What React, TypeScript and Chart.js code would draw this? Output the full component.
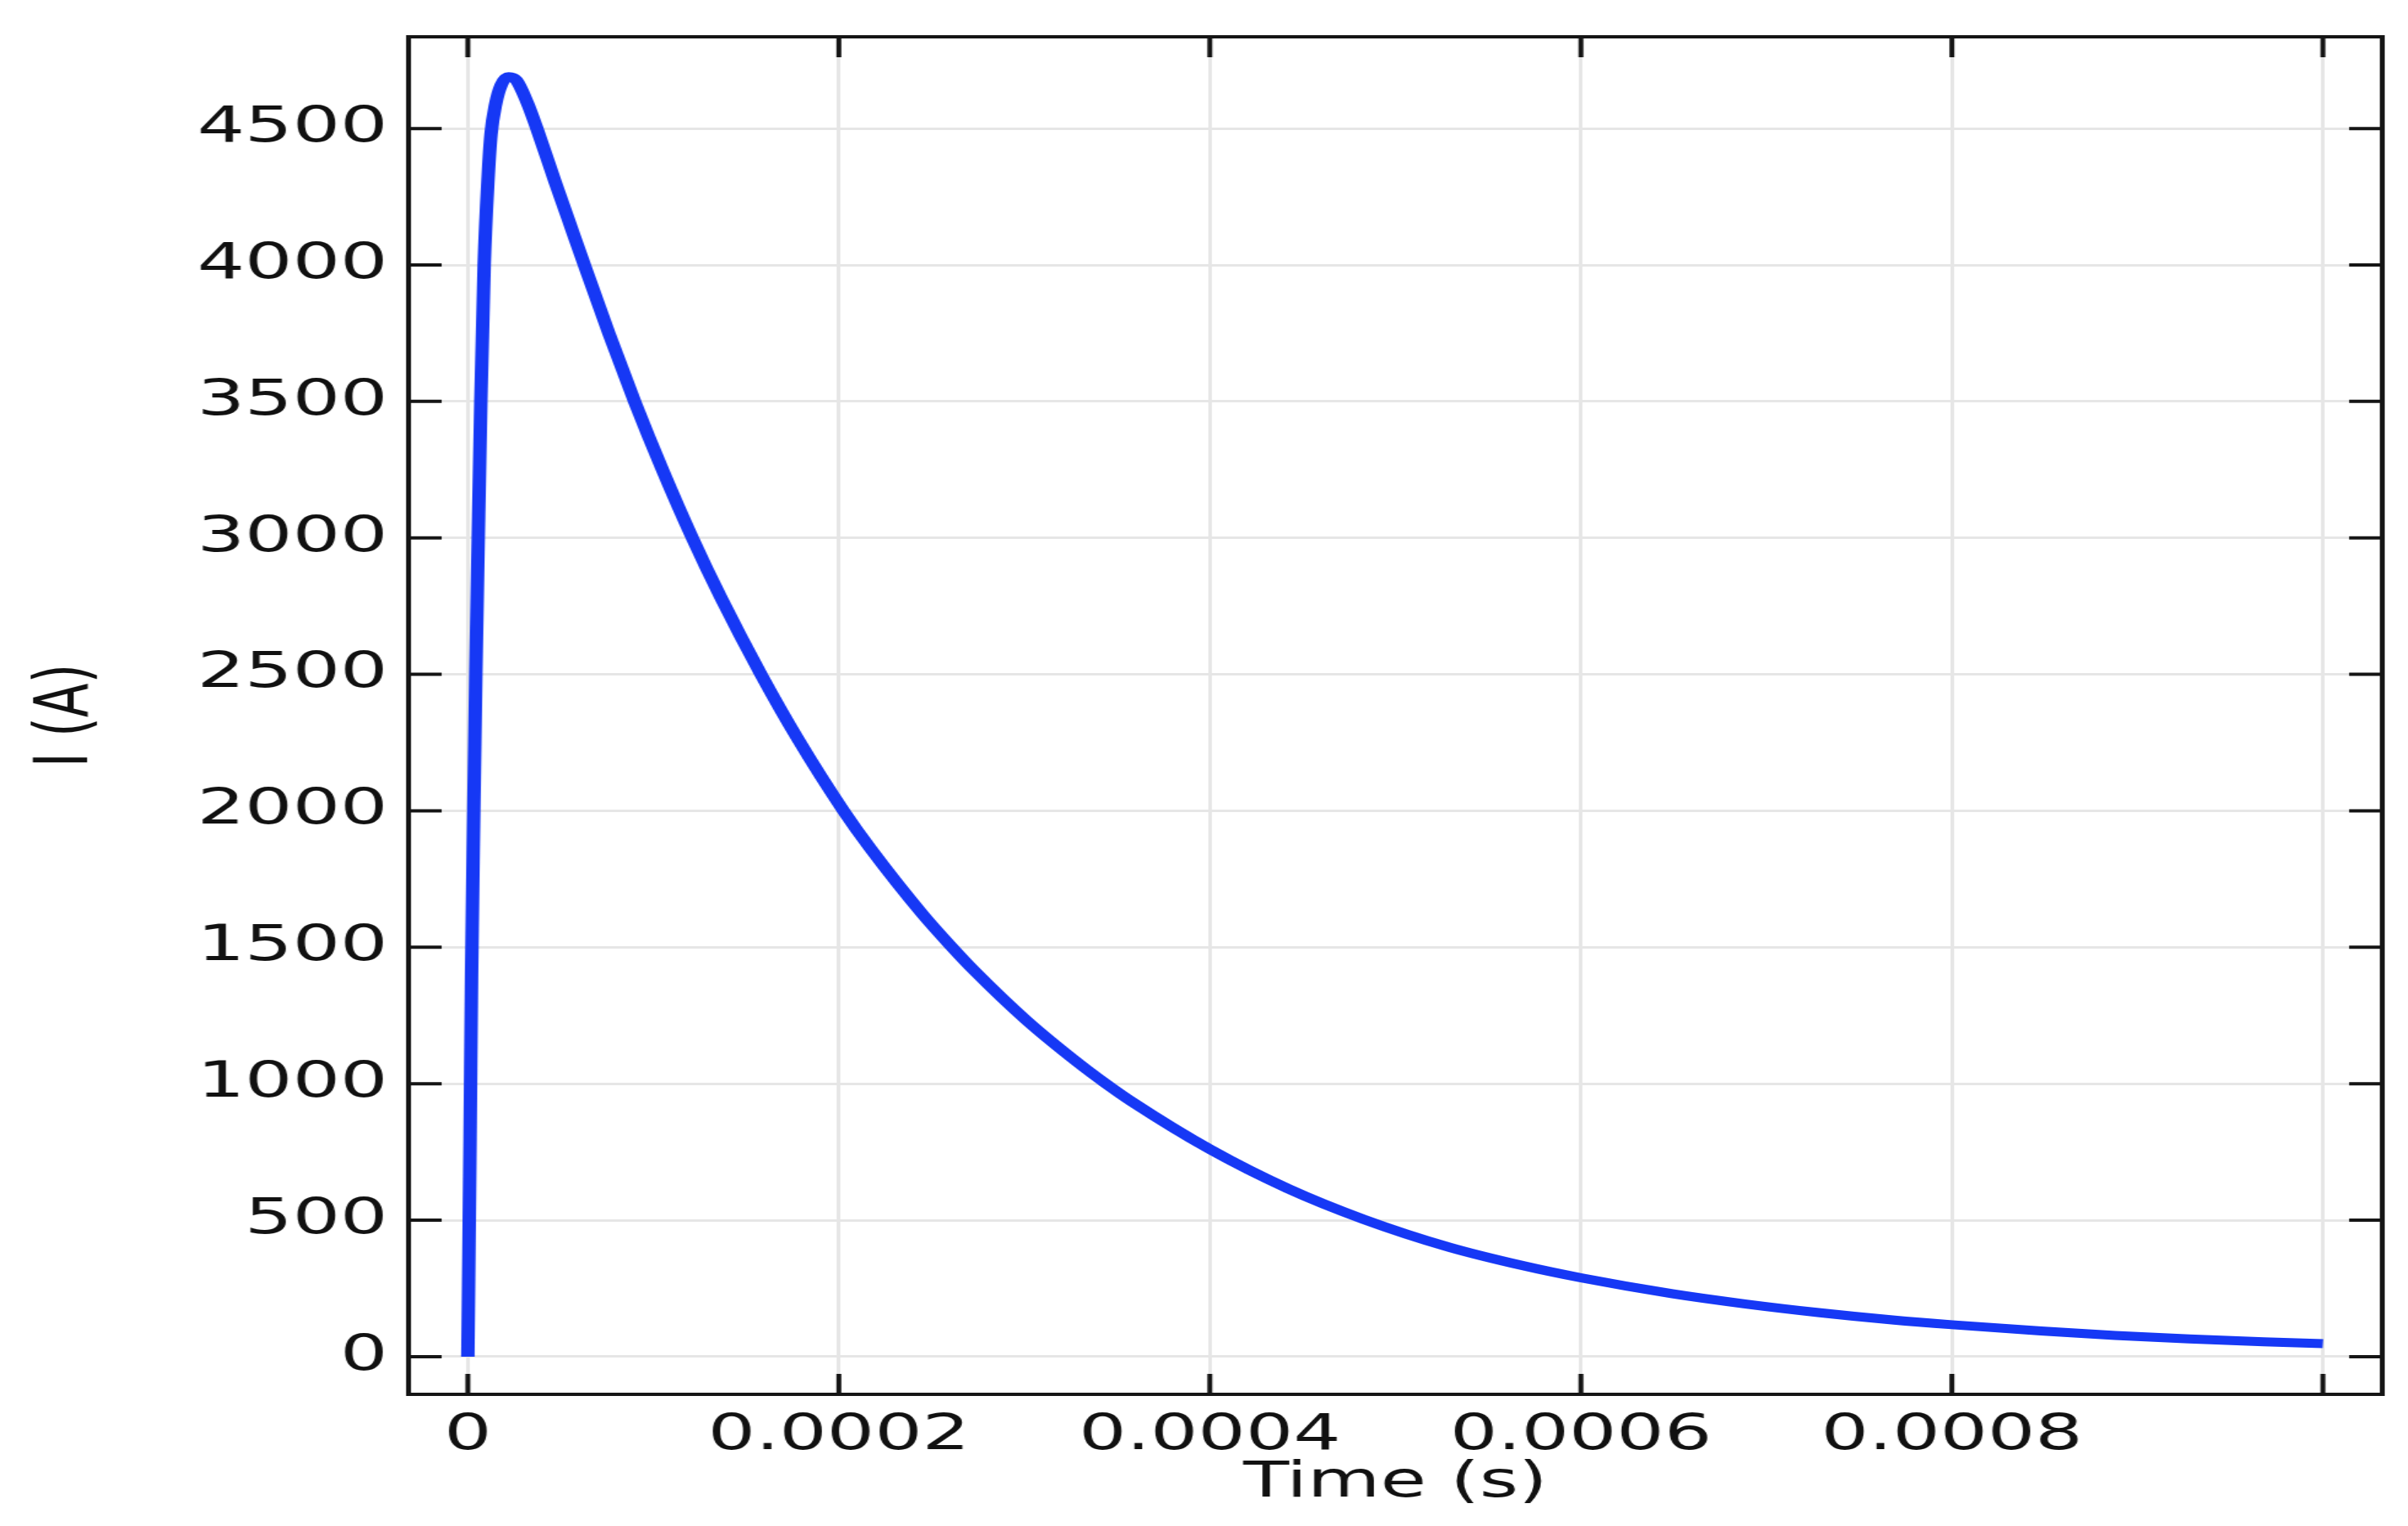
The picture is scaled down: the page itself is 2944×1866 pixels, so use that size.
import { useEffect, useRef } from "react";
import { Chart, ChartOptions, Plugin, registerables } from "chart.js";

Chart.register(...registerables);

// time in seconds, current in amperes
const timeValues = [
  0, 1.2e-6, 2.0e-6, 3.2e-6, 4.3e-6, 5.6e-6, 7.0e-6, 8.8e-6, 1.1e-5, 1.25e-5,
  1.5e-5, 1.8e-5, 2.2e-5, 2.6e-5, 3.2e-5, 3.72e-5, 4.7e-5, 5.45e-5, 6.28e-5,
  7.6e-5, 9.0e-5, 1.05e-4, 1.21e-4, 1.364e-4, 1.58e-4, 1.78e-4, 2.025e-4,
  2.17e-4, 2.45e-4, 2.61e-4, 2.73e-4, 3.01e-4, 3.3e-4, 3.44e-4, 3.58e-4,
  4.0e-4, 4.42e-4, 4.83e-4, 5.29e-4, 5.69e-4, 6.0e-4, 6.49e-4, 6.89e-4,
  7.29e-4, 7.69e-4, 8.0e-4, 8.48e-4, 8.88e-4, 9.28e-4, 9.68e-4, 1.0e-3,
];
const currentValues = [
  0, 800, 1400, 2000, 2500, 3000, 3500, 4000, 4330, 4480,
  4590, 4660, 4690, 4678, 4595, 4500, 4305, 4160, 4000,
  3750, 3498, 3248, 3000, 2781, 2500, 2262, 2000,
  1862, 1622, 1500, 1414, 1233, 1071, 1000, 934,
  760, 616, 503, 401, 333, 289, 231, 193,
  161, 134, 117, 94, 78, 65, 54.5, 47.5,
];

const xTickValues = [0, 0.0002, 0.0004, 0.0006, 0.0008, 0.001];
const xTickLabels = ["0", "0.0002", "0.0004", "0.0006", "0.0008", ""];
const yTickValues = [0, 500, 1000, 1500, 2000, 2500, 3000, 3500, 4000, 4500];
const yTickLabels = ["0", "500", "1000", "1500", "2000", "2500", "3000", "3500", "4000", "4500"];

// the reference is stretched sideways, so the canvas is drawn narrow and scaled
const PAGE_W = 2944;
const PAGE_H = 1866;
const CANVAS_W = 1963;
const FONT = "'DejaVu Sans', sans-serif";

const framePlugin: Plugin<"line"> = {
  id: "frame",
  afterDatasetsDraw(chart) {
    const { ctx, chartArea: a, scales } = chart;
    ctx.save();
    ctx.strokeStyle = "#151515";
    ctx.lineWidth = 4;
    ctx.beginPath();
    // inward ticks on all four sides
    xTickValues.forEach((v) => {
      const px = scales.x.getPixelForValue(v);
      ctx.moveTo(px, a.bottom);
      ctx.lineTo(px, a.bottom - 25);
      ctx.moveTo(px, a.top);
      ctx.lineTo(px, a.top + 25);
    });
    yTickValues.forEach((v) => {
      const py = scales.y.getPixelForValue(v);
      ctx.moveTo(a.left, py);
      ctx.lineTo(a.left + 27, py);
      ctx.moveTo(a.right, py);
      ctx.lineTo(a.right - 27, py);
    });
    ctx.stroke();
    ctx.strokeRect(a.left, a.top, a.right - a.left, a.bottom - a.top);
    ctx.restore();
  },
};

const CurrentChart = () => {
  const chartRef = useRef<HTMLCanvasElement | null>(null);

  useEffect(() => {
    if (!chartRef.current) return;
    const ctx = chartRef.current.getContext("2d");
    if (!ctx) return;

    const options: ChartOptions<"line"> = {
      responsive: true,
      maintainAspectRatio: false,
      animation: false,
      devicePixelRatio: 1,
      layout: {
        autoPadding: false,
        padding: { top: 45, right: 21, left: 0, bottom: 0 },
      },
      plugins: {
        legend: { display: false },
        tooltip: { enabled: false },
      },
      elements: {
        point: { radius: 0, hoverRadius: 0 },
      },
      scales: {
        x: {
          type: "linear",
          min: -3.2e-5,
          max: 1.032e-3,
          afterBuildTicks: (scale) => {
            scale.ticks = xTickValues.map((v) => ({ value: v }));
          },
          afterFit: (scale) => {
            scale.height = 161;
            scale.paddingLeft = 0;
            scale.paddingRight = 0;
          },
          grid: { color: "#e6e6e6", lineWidth: 3, drawTicks: false },
          border: { display: false },
          ticks: {
            autoSkip: false,
            maxRotation: 0,
            padding: 15,
            color: "#111",
            font: { family: FONT, size: 61 },
            callback: (_v, i) => xTickLabels[i],
          },
          title: {
            display: true,
            text: "Time (s)",
            color: "#111",
            font: { family: FONT, size: 61 },
            padding: { top: 0, bottom: 15 },
          },
        },
        y: {
          type: "linear",
          min: -138,
          max: 4836,
          afterBuildTicks: (scale) => {
            scale.ticks = yTickValues.map((v) => ({ value: v }));
          },
          afterFit: (scale) => {
            scale.width = 333;
            scale.paddingTop = 0;
            scale.paddingBottom = 0;
          },
          grid: { color: "#e6e6e6", lineWidth: 3, drawTicks: false },
          border: { display: false },
          ticks: {
            autoSkip: false,
            padding: 17,
            color: "#111",
            font: { family: FONT, size: 61 },
            callback: (_v, i) => yTickLabels[i],
          },
          title: {
            display: true,
            text: "I (A)",
            color: "#111",
            font: { family: FONT, size: 61 },
            padding: { top: 19, bottom: 0 },
          },
        },
      },
    };

    const myChart = new Chart(ctx, {
      type: "line",
      data: {
        datasets: [
          {
            label: "I",
            data: timeValues.map((t, i) => ({ x: t, y: currentValues[i] })),
            borderColor: "rgb(22, 56, 245)",
            borderWidth: 11,
            cubicInterpolationMode: "monotone",
            fill: false,
          },
        ],
      },
      options: options,
      plugins: [framePlugin],
    });

    return () => {
      myChart.destroy();
    };
  }, []);

  return (
    <div
      style={{
        position: "absolute",
        left: 0,
        top: 0,
        width: PAGE_W,
        height: PAGE_H,
        overflow: "hidden",
        background: "#fff",
      }}
    >
      <div
        style={{
          width: CANVAS_W,
          height: PAGE_H,
          transform: `scaleX(${PAGE_W / CANVAS_W})`,
          transformOrigin: "0 0",
        }}
      >
        <canvas ref={chartRef}></canvas>
      </div>
    </div>
  );
};

export default function App() {
  return <CurrentChart />;
}
